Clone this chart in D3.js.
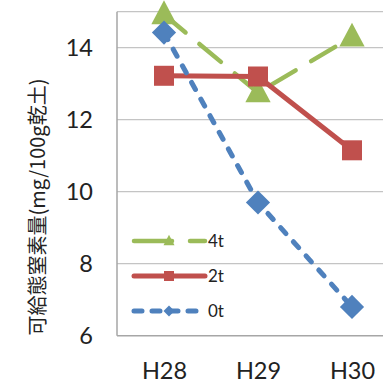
<!DOCTYPE html>
<html><head><meta charset="utf-8">
<script src="https://cdn.jsdelivr.net/npm/d3@7"></script>
<style>body{margin:0;background:#fff;overflow:hidden}</style>
</head><body>
<svg id="c" width="383" height="385"></svg>
<script>
const categories = ["H28", "H29", "H30"];
const seriesNames = ["4t", "2t", "0t"];
const values4t = [14.92, 12.75, 14.3];
const values2t = [13.22, 13.2, 11.15];
const values0t = [14.42, 9.7, 6.8];
const yTicks = [6, 8, 10, 12, 14];
const yLabel = "可給態窒素量(mg/100g乾土)";

const series = [
  {name: "4t", values: values4t, color: "#9BBB59", dash: "28,18", width: 4.5, marker: "triangle"},
  {name: "2t", values: values2t, color: "#C0504D", dash: null, width: 5, marker: "square"},
  {name: "0t", values: values0t, color: "#4F81BD", dash: "8,11", width: 5, marker: "diamond"}
];

const svg = d3.select("#c");
const plotLeft = 117, plotTop = 11.7, plotBottom = 335.7;
const x = d3.scalePoint().domain(categories).range([plotLeft + 47, plotLeft + 47 + 2 * 94]);
const y = d3.scaleLinear().domain([6, 15]).range([plotBottom, plotTop]);

// gridlines
svg.append("g").selectAll("line").data(yTicks.concat([15]).filter(d => d > 6)).join("line")
  .attr("x1", plotLeft).attr("x2", 383).attr("y1", d => y(d)).attr("y2", d => y(d))
  .attr("stroke", "#c4c4c4").attr("stroke-width", 1.3);

// axes lines
svg.append("line").attr("x1", plotLeft).attr("x2", plotLeft).attr("y1", plotTop).attr("y2", plotBottom)
  .attr("stroke", "#a6a6a6").attr("stroke-width", 1.5);
svg.append("line").attr("x1", plotLeft).attr("x2", 383).attr("y1", plotBottom).attr("y2", plotBottom)
  .attr("stroke", "#a6a6a6").attr("stroke-width", 1.5);

// y tick labels
const yAxis = d3.axisLeft(y).tickValues(yTicks).tickSize(0).tickPadding(0);
const ga = svg.append("g").attr("transform", `translate(${93},0)`).call(yAxis);
ga.select(".domain").remove();
ga.selectAll("text").attr("font-family", "Lato, 'Open Sans', sans-serif").attr("font-size", 23.5)
  .attr("fill", "#222").attr("dy", "0.35em");

// x labels
const xAxis = d3.axisBottom(x).tickSize(0).tickPadding(0);
const gx = svg.append("g").attr("transform", `translate(0,${361})`).call(xAxis);
gx.select(".domain").remove();
gx.selectAll("text").attr("font-family", "Lato, 'Open Sans', sans-serif").attr("font-size", 23.5)
  .attr("fill", "#222").attr("dy", "0.75em");

// y label
svg.append("text").attr("transform", "translate(45,207) rotate(-90)")
  .attr("text-anchor", "middle").attr("font-family", "'Noto Sans CJK JP', sans-serif")
  .attr("font-size", 20).attr("fill", "#222").text(yLabel);

function marker(g, type, cx, cy, s, color) {
  if (type === "triangle") {
    g.append("path").attr("d", `M${cx},${cy - s * 0.62}L${cx + s * 0.55},${cy + s * 0.42}L${cx - s * 0.55},${cy + s * 0.42}Z`).attr("fill", color);
  } else if (type === "square") {
    g.append("rect").attr("x", cx - s / 2).attr("y", cy - s / 2).attr("width", s).attr("height", s).attr("fill", color);
  } else {
    g.append("path").attr("d", `M${cx},${cy - s * 0.55}L${cx + s * 0.55},${cy}L${cx},${cy + s * 0.55}L${cx - s * 0.55},${cy}Z`).attr("fill", color);
  }
}

const line = d3.line().x((d, i) => x(categories[i])).y(d => y(d));
series.forEach(s => {
  const g = svg.append("g");
  g.append("path").attr("d", line(s.values)).attr("fill", "none").attr("stroke", s.color)
    .attr("stroke-width", s.width).attr("stroke-linecap", "round")
    .attr("stroke-dasharray", s.dash);
  const ms = s.marker === "triangle" ? 23 : (s.marker === "square" ? 20 : 22);
  s.values.forEach((v, i) => marker(g, s.marker, x(categories[i]), y(v), ms, s.color));
});

// legend
const legY = [241, 276, 311];
series.forEach((s, i) => {
  const g = svg.append("g");
  g.append("line").attr("x1", 134).attr("x2", 205).attr("y1", legY[i]).attr("y2", legY[i])
    .attr("stroke", s.color).attr("stroke-width", s.width).attr("stroke-linecap", "round")
    .attr("stroke-dasharray", s.name === "4t" ? "38,18" : (s.name === "0t" ? "8,10" : null));
  marker(g, s.marker, 169, legY[i], 10, s.color);
  g.append("text").attr("x", 208).attr("y", legY[i]).attr("dy", "0.35em")
    .attr("font-family", "Lato, 'Open Sans', sans-serif").attr("font-size", 17).attr("fill", "#222").text(s.name);
});
</script>
</body></html>
